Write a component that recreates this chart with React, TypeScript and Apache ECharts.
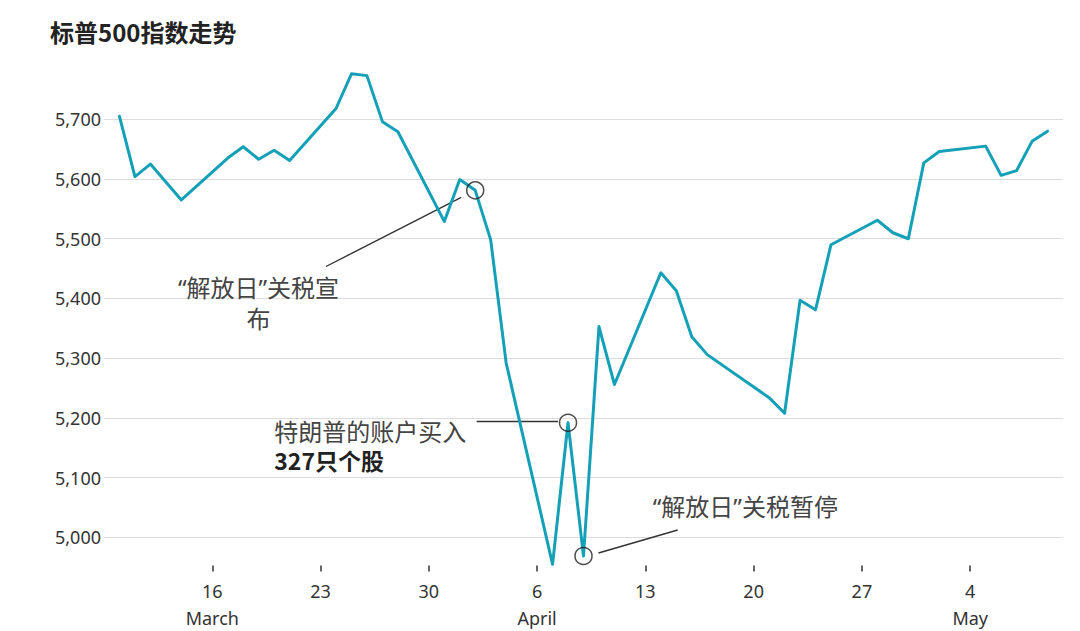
import React, { useEffect, useRef } from "react";
import * as echarts from "echarts";

// ---- data ----
const dates = [
  "2025-03-10", "2025-03-11", "2025-03-12", "2025-03-13", "2025-03-14",
  "2025-03-17", "2025-03-18", "2025-03-19", "2025-03-20", "2025-03-21",
  "2025-03-24", "2025-03-25", "2025-03-26", "2025-03-27", "2025-03-28",
  "2025-03-31", "2025-04-01", "2025-04-02", "2025-04-03", "2025-04-04",
  "2025-04-07", "2025-04-08", "2025-04-09", "2025-04-10", "2025-04-11",
  "2025-04-14", "2025-04-15", "2025-04-16", "2025-04-17",
  "2025-04-21", "2025-04-22", "2025-04-23", "2025-04-24", "2025-04-25",
  "2025-04-28", "2025-04-29", "2025-04-30", "2025-05-01", "2025-05-02",
  "2025-05-05", "2025-05-06", "2025-05-07", "2025-05-08", "2025-05-09",
];
const closes = [
  5705, 5604, 5625, 5595, 5565,
  5635, 5654, 5633, 5648, 5631,
  5718, 5776, 5773, 5696, 5679,
  5529, 5599, 5581, 5498, 5292,
  4955, 5192, 4969, 5353, 5256,
  5443, 5413, 5336, 5306,
  5234, 5208, 5397, 5381, 5490,
  5531, 5510, 5500, 5627, 5646,
  5655, 5606, 5614, 5663, 5680,
];
const markedDates = ["2025-04-02", "2025-04-08", "2025-04-09"];
const xTickDates = [
  "2025-03-16", "2025-03-23", "2025-03-30", "2025-04-06",
  "2025-04-13", "2025-04-20", "2025-04-27", "2025-05-04",
];
const axisStart = "2025-03-09";
const axisEnd = "2025-05-10";
const yMin = 4900;
const yMax = 5800;
const yStep = 100;
const monthNames = [
  "January", "February", "March", "April", "May", "June",
  "July", "August", "September", "October", "November", "December",
];
const titleText = "标普500指数走势";
const note1 = "“解放日”关税宣\n布";
const note2a = "特朗普的账户买入";
const note2b = "327只个股";
const note3 = "“解放日”关税暂停";

const DAY = 86400000;
const utc = (s: string) => {
  const [y, m, d] = s.split("-").map(Number);
  return Date.UTC(y, m - 1, d);
};
const t0 = utc(axisStart);
const toDay = (s: string) => Math.round((utc(s) - t0) / DAY);

const FONT_LATIN = '"Noto Sans", "Noto Sans CJK SC", sans-serif';
const FONT_CJK = '"Noto Sans", "Noto Sans CJK SC", sans-serif';

export default function App() {
  const ref = useRef<HTMLDivElement>(null);

  useEffect(() => {
    if (!ref.current) return;
    const chart = echarts.init(ref.current, null, { renderer: "svg" });
    const lineData = dates.map((d, i) => [toDay(d), closes[i]]);
    const markData = markedDates.map((d) => [toDay(d), closes[dates.indexOf(d)]]);
    const tickDays = xTickDates.map(toDay);
    const firstTick = tickDays[0];

    chart.setOption({
      animation: false,
      grid: { left: 104, right: 17, top: 59.5, bottom: 33.3 },
      xAxis: {
        type: "value",
        min: 0,
        max: toDay(axisEnd),
        axisLine: { show: false },
        splitLine: { show: false },
        offset: -31.7,
        axisTick: {
          show: true,
          length: 6,
          customValues: tickDays,
          lineStyle: { color: "#333", width: 1.5 },
        },
        axisLabel: {
          customValues: tickDays,
          margin: 11.5,
          color: "#333",
          fontSize: 18,
          fontFamily: FONT_LATIN,
          lineHeight: 27,
          formatter: (v: number) => {
            const dt = new Date(t0 + v * DAY);
            const day = dt.getUTCDate();
            if (day <= 7 || v === firstTick) {
              return day + "\n" + monthNames[dt.getUTCMonth()];
            }
            return String(day);
          },
        },
      },
      yAxis: {
        type: "value",
        min: yMin,
        max: yMax,
        interval: yStep,
        axisLine: { show: false },
        axisTick: { show: false },
        axisLabel: {
          margin: 3,
          color: "#333",
          fontSize: 18,
          fontFamily: FONT_LATIN,
          formatter: (v: number) =>
            v === yMin || v === yMax ? "" : v.toLocaleString("en-US"),
        },
        splitLine: {
          show: true,
          showMinLine: false,
          showMaxLine: false,
          lineStyle: { color: "#dcdcdc", width: 1 },
        },
      },
      series: [
        {
          type: "line",
          data: lineData,
          showSymbol: false,
          symbol: "none",
          lineStyle: { color: "#14a0b6", width: 3, join: "round", cap: "round" },
          z: 2,
        },
        {
          type: "scatter",
          data: markData,
          symbol: "circle",
          symbolSize: 17,
          itemStyle: {
            color: "rgba(0,0,0,0)",
            borderColor: "#222",
            borderWidth: 1.5,
          },
          z: 3,
        },
      ],
    });

    const px = (i: number) =>
      chart.convertToPixel({ gridIndex: 0 }, markData[i]) as number[];
    const c1 = px(0);
    const c2 = px(1);
    const c3 = px(2);

    const lineStyle = { stroke: "#333", lineWidth: 1.4 };
    chart.setOption({
      graphic: [
        {
          type: "text",
          x: 50,
          y: 31,
          style: {
            text: titleText,
            font: 'bold 24px "Noto Sans CJK SC", sans-serif',
            fill: "#222",
            verticalAlign: "middle",
            align: "left",
          },
        },
        {
          type: "line",
          shape: { x1: c1[0] - 14, y1: c1[1] + 7, x2: 326, y2: 266.5 },
          style: lineStyle,
        },
        {
          type: "text",
          x: 258.5,
          y: 271.5,
          style: {
            text: note1,
            font: '24px ' + FONT_CJK,
            fill: "#444",
            align: "center",
            verticalAlign: "top",
            lineHeight: 31,
          },
        },
        {
          type: "line",
          shape: { x1: 476.7, y1: c2[1] - 1.3, x2: c2[0] - 10, y2: c2[1] - 1.3 },
          style: lineStyle,
        },
        {
          type: "text",
          x: 274.3,
          y: 431,
          style: {
            text: note2a,
            font: '24px ' + FONT_CJK,
            fill: "#444",
            align: "left",
            verticalAlign: "middle",
          },
        },
        {
          type: "text",
          x: 274.3,
          y: 459.5,
          style: {
            text: note2b,
            font: 'bold 23px "Noto Sans CJK SC", sans-serif',
            fill: "#222",
            align: "left",
            verticalAlign: "middle",
          },
        },
        {
          type: "line",
          shape: { x1: c3[0] + 15, y1: c3[1] - 3, x2: 677.7, y2: 530 },
          style: lineStyle,
        },
        {
          type: "text",
          x: 652.7,
          y: 506.7,
          style: {
            text: note3,
            font: '24px ' + FONT_CJK,
            fill: "#444",
            align: "left",
            verticalAlign: "middle",
          },
        },
      ],
    });

    return () => chart.dispose();
  }, []);

  return (
    <div
      ref={ref}
      style={{ position: "fixed", left: 0, top: 0, width: 1080, height: 631, background: "#fff" }}
    />
  );
}
